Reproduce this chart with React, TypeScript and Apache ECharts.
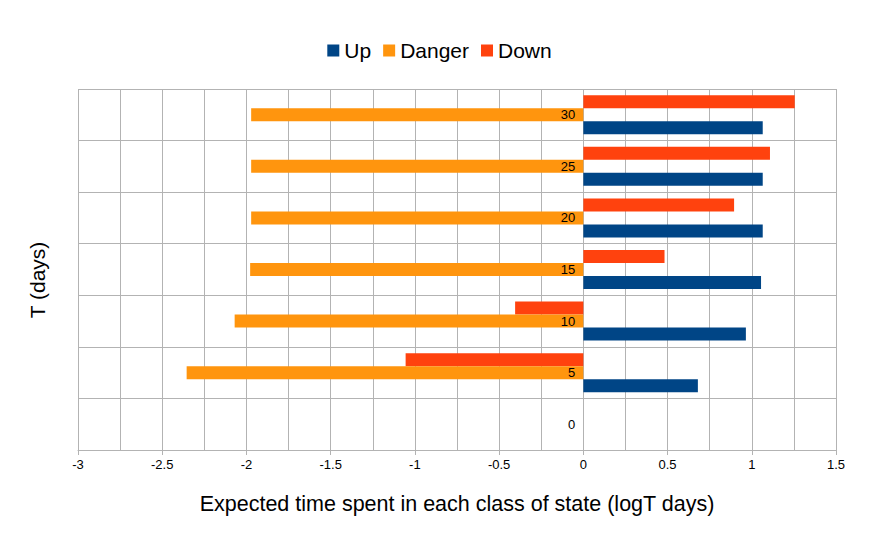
import React, { useEffect, useRef } from "react";
import * as echarts from "echarts";

const categories = ["0", "5", "10", "15", "20", "25", "30"];
const upValues = [null, 0.68, 0.965, 1.055, 1.065, 1.065, 1.065];
const dangerValues = [null, -2.355, -2.07, -1.978, -1.972, -1.972, -1.972];
const downValues = [null, -1.055, -0.405, 0.482, 0.895, 1.108, 1.255];

const GRID = "#b3b3b3";
const FONT = "Liberation Sans, Arial, sans-serif";
const X_MIN = -3;
const X_MAX = 1.5;
const GRID_LEFT = 78;
const GRID_RIGHT = 43;
const WIDTH = 879;

export default function App() {
  const ref = useRef<HTMLDivElement>(null);
  useEffect(() => {
    if (!ref.current) return;
    document.body.style.margin = "0";
    const chart = echarts.init(ref.current, undefined, { renderer: "svg" });
    // distance from grid left edge to the x=0 position
    const plotW = WIDTH - GRID_LEFT - GRID_RIGHT;
    const zeroOffset = ((0 - X_MIN) / (X_MAX - X_MIN)) * plotW;
    chart.setOption({
      animation: false,
      textStyle: { fontFamily: FONT },
      legend: {
        top: 35,
        left: "center",
        icon: "rect",
        itemWidth: 12,
        itemHeight: 12,
        itemGap: 12,
        textStyle: { fontSize: 21, color: "#000", fontFamily: FONT },
        data: ["Up", "Danger", "Down"],
      },
      grid: { left: GRID_LEFT, right: GRID_RIGHT, top: 89, bottom: 88, containLabel: false },
      xAxis: {
        type: "value",
        min: X_MIN,
        max: X_MAX,
        interval: 0.5,
        name: "Expected time spent in each class of state (logT days)",
        nameLocation: "middle",
        nameGap: 43,
        nameTextStyle: { fontSize: 21.5, color: "#000", fontFamily: FONT },
        axisLine: { show: true, lineStyle: { color: GRID } },
        axisTick: { show: true, length: 5, lineStyle: { color: GRID } },
        axisLabel: { fontSize: 13, color: "#000", margin: 8, fontFamily: FONT },
        splitLine: { show: true, lineStyle: { color: GRID, width: 1 } },
        minorTick: { show: false, splitNumber: 2 },
        minorSplitLine: { show: true, lineStyle: { color: GRID, width: 1 } },
      },
      yAxis: {
        type: "category",
        data: categories,
        z: 10,
        axisLine: { show: false },
        axisTick: { show: false },
        axisLabel: {
          fontSize: 13,
          color: "#000",
          margin: 8 - zeroOffset,
          align: "right",
          fontFamily: FONT,
        },
        splitLine: { show: true, lineStyle: { color: GRID, width: 1 } },
      },
      graphic: [
        {
          type: "text",
          x: 37,
          y: 280,
          rotation: Math.PI / 2,
          style: {
            text: "T (days)",
            fontSize: 21,
            fill: "#000",
            fontFamily: FONT,
            align: "center",
            verticalAlign: "middle",
          },
        },
      ],
      series: [
        {
          name: "Down",
          type: "bar",
          data: downValues,
          barWidth: 13,
          barGap: "0%",
          itemStyle: { color: "#ff420e" },
        },
        {
          name: "Danger",
          type: "bar",
          data: dangerValues,
          barWidth: 13,
          barGap: "0%",
          itemStyle: { color: "#ff950e" },
        },
        {
          name: "Up",
          type: "bar",
          data: upValues,
          barWidth: 13,
          barGap: "0%",
          itemStyle: { color: "#004586" },
        },
      ],
    });
    return () => chart.dispose();
  }, []);
  return <div ref={ref} style={{ width: WIDTH, height: 538 }} />;
}
